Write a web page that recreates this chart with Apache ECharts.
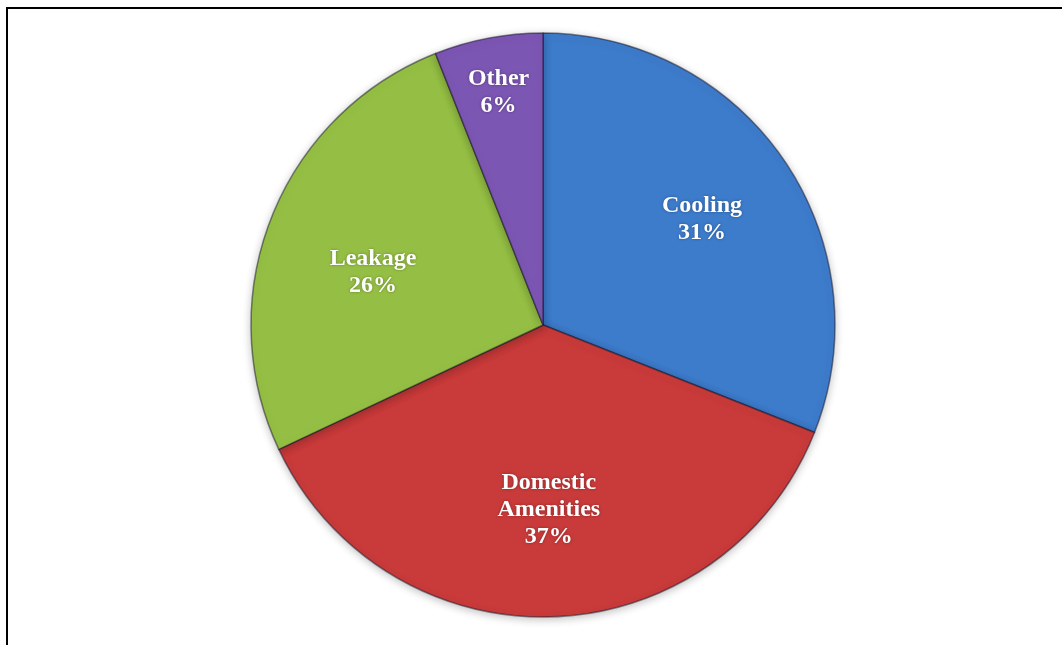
<!DOCTYPE html>
<html>
<head>
<meta charset="utf-8">
<script src="https://cdn.jsdelivr.net/npm/echarts@6/dist/echarts.min.js"></script>
<style>
  html, body { margin: 0; padding: 0; background: #ffffff; }
  #chart { width: 1062px; height: 645px; }
</style>
</head>
<body>
<div id="chart"></div>
<script>
// Water use breakdown (percent of total)
const categories = ['Cooling', 'Domestic\nAmenities', 'Leakage', 'Other'];
const shares = [31, 37, 26, 6];
const sliceColors = ['#3d7bcb', '#c93a3a', '#95bf44', '#7c56b3'];

const chart = echarts.init(document.getElementById('chart'), null, { renderer: 'canvas' });

const center = [543, 325];
const radius = 292;

// small nudges for individual slice labels
const labelNudge = { 'Cooling': [6, -2], 'Leakage': [2, 15] };

const sliceData = categories.map((name, i) => ({
  name,
  value: shares[i],
  itemStyle: { color: sliceColors[i] }
}));

const labelStyle = {
  color: '#ffffff',
  fontFamily: '"Liberation Serif", "DejaVu Serif", serif',
  fontWeight: 'bold',
  fontSize: 24,
  lineHeight: 27,
  textShadowColor: 'rgba(0,0,0,0.35)',
  textShadowBlur: 3,
  formatter: p => p.name + '\n' + p.value + '%'
};

// Invisible pies that only carry the slice labels at a chosen distance from the centre
function labelPie(outer, visibleNames) {
  return {
    type: 'pie',
    silent: true,
    center,
    radius: [0, outer],
    startAngle: 90,
    clockwise: true,
    z: 5,
    itemStyle: { color: 'rgba(0,0,0,0)', borderWidth: 0 },
    emphasis: { disabled: true },
    labelLine: { show: false },
    data: categories.map((name, i) => ({
      name,
      value: shares[i],
      label: Object.assign(
        { show: visibleNames.includes(name), position: 'inside', offset: labelNudge[name] || [0, 0] },
        labelStyle
      )
    }))
  };
}

chart.setOption({
  animation: false,
  backgroundColor: '#ffffff',
  graphic: [
    {
      type: 'polyline',
      shape: { points: [[7, 700], [7, 8], [1100, 8]] },
      style: { stroke: '#000000', lineWidth: 2, fill: null },
      z: 10
    }
  ],
  series: [
    {
      type: 'pie',
      center,
      radius: [0, radius],
      startAngle: 90,
      clockwise: true,
      label: { show: false },
      labelLine: { show: false },
      itemStyle: {
        borderColor: 'rgba(20,20,40,0.5)',
        borderWidth: 1.5,
        shadowBlur: 8,
        shadowColor: 'rgba(0,0,0,0.25)',
        shadowOffsetY: 2
      },
      emphasis: { disabled: true },
      data: sliceData
    },
    labelPie(364, ['Cooling', 'Domestic\nAmenities', 'Leakage']),
    labelPie(468, ['Other'])
  ]
});
</script>
</body>
</html>
